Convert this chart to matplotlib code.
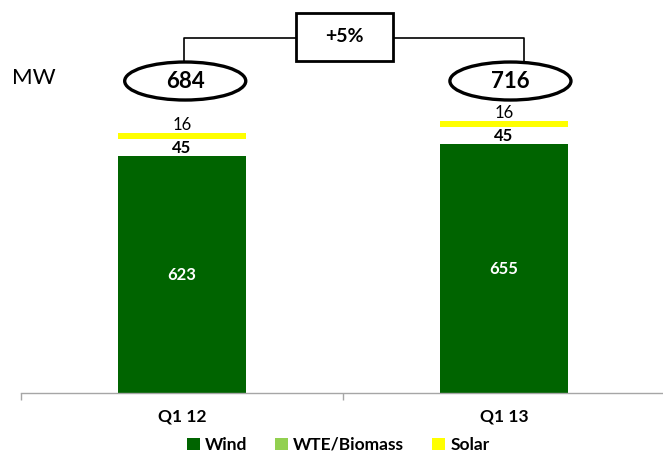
import matplotlib
matplotlib.use("Agg")
import matplotlib.pyplot as plt
from matplotlib.patches import Ellipse, Rectangle, Patch

plt.rcParams['font.family'] = ['Lato', 'DejaVu Sans']

categories = ["Q1 12", "Q1 13"]
wind = [623, 655]
wte = [45, 45]
solar = [16, 16]
growth_label = "+5%"
unit_label = "MW"
series_names = ["Wind", "WTE/Biomass", "Solar"]

c_wind = "#006400"
c_wte = "#92D050"
c_solar = "#FFFF00"

fig = plt.figure(figsize=(6.63, 4.54), dpi=100)
ax = fig.add_axes([21/663, 61/454, 644/663, 393/454])
ax.set_xlim(-0.5, 1.5)
ax.set_ylim(0, 393/0.38)

x = list(range(len(categories)))
bw = 0.40
ax.bar(x, wind, bw, color=c_wind, zorder=2)
bottoms2 = [w for w in wind]
ax.bar(x, wte, bw, bottom=bottoms2, color="white", zorder=2)
bottoms3 = [w + t for w, t in zip(wind, wte)]
ax.bar(x, solar, bw, bottom=bottoms3, color=c_solar, zorder=2)

totals = [w + t + s for w, t, s in zip(wind, wte, solar)]

for i in x:
    ax.text(i, wind[i] / 2, str(wind[i]), ha="center", va="center",
            color="white", fontsize=12, fontweight="bold")
    ax.text(i, wind[i] + wte[i] / 2, str(wte[i]), ha="center", va="center",
            color="black", fontsize=12, fontweight="bold")
    ax.text(i, totals[i] + 22, str(solar[i]), ha="center", va="center",
            color="black", fontsize=12)

# total ellipses
ell_off = [0.01, 0.02]
line_off = [0.006, 0.062]
ell_y = 821
ell_h = 100
ell_w = 0.376
for i in x:
    e = Ellipse((i + ell_off[i], ell_y), ell_w, ell_h, facecolor="white",
                edgecolor="black", lw=2.4, zorder=3, clip_on=False)
    ax.add_patch(e)
    ax.text(i + ell_off[i], ell_y - 2, str(totals[i]), ha="center", va="center",
            fontsize=16, fontweight="bold", zorder=4)

# connector lines and growth box
line_y = 934
box_cx = 0.505
box_w = 0.30
box_h = 126
box_cy = 937
ax.plot([0 + line_off[0], 0 + line_off[0], box_cx - box_w / 2],
        [ell_y + ell_h / 2, line_y, line_y], color="black", lw=1.2, zorder=2, clip_on=False)
ax.plot([box_cx + box_w / 2, 1 + line_off[1], 1 + line_off[1]],
        [line_y, line_y, ell_y + ell_h / 2], color="black", lw=1.2, zorder=2, clip_on=False)
ax.add_patch(Rectangle((box_cx - box_w / 2, box_cy - box_h / 2), box_w, box_h,
                       facecolor="white", edgecolor="black", lw=2, zorder=3, clip_on=False))
ax.text(box_cx, box_cy, growth_label, ha="center", va="center", fontsize=14,
        fontweight="bold", zorder=4)

fig.text(12/663, 1 - 78/454, unit_label, ha="left", va="center", fontsize=16)

# axes styling
for s in ["top", "right", "left"]:
    ax.spines[s].set_visible(False)
ax.spines["bottom"].set_color("#a6a6a6")
ax.spines["bottom"].set_linewidth(1)
ax.set_yticks([])
ax.set_xticks(x)
ax.set_xticklabels(categories, fontsize=12.5, fontweight="bold")
ax.tick_params(axis="x", which="major", length=0, pad=11)
ax.set_xticks([-0.5, 0.5, 1.5], minor=True)
ax.tick_params(axis="x", which="minor", length=5, color="#a6a6a6", width=1)

handles = [Patch(facecolor=c_wind, label=series_names[0]),
           Patch(facecolor=c_wte, label=series_names[1]),
           Patch(facecolor=c_solar, label=series_names[2])]
fig.legend(handles=handles, loc="center", bbox_to_anchor=(0.51, 1 - 445/454), ncol=3,
           frameon=False, handlelength=0.75, handleheight=0.75, handletextpad=0.3,
           columnspacing=1.6, prop={"size": 12.5, "weight": "bold"})

fig.savefig("out.png", dpi=100)
